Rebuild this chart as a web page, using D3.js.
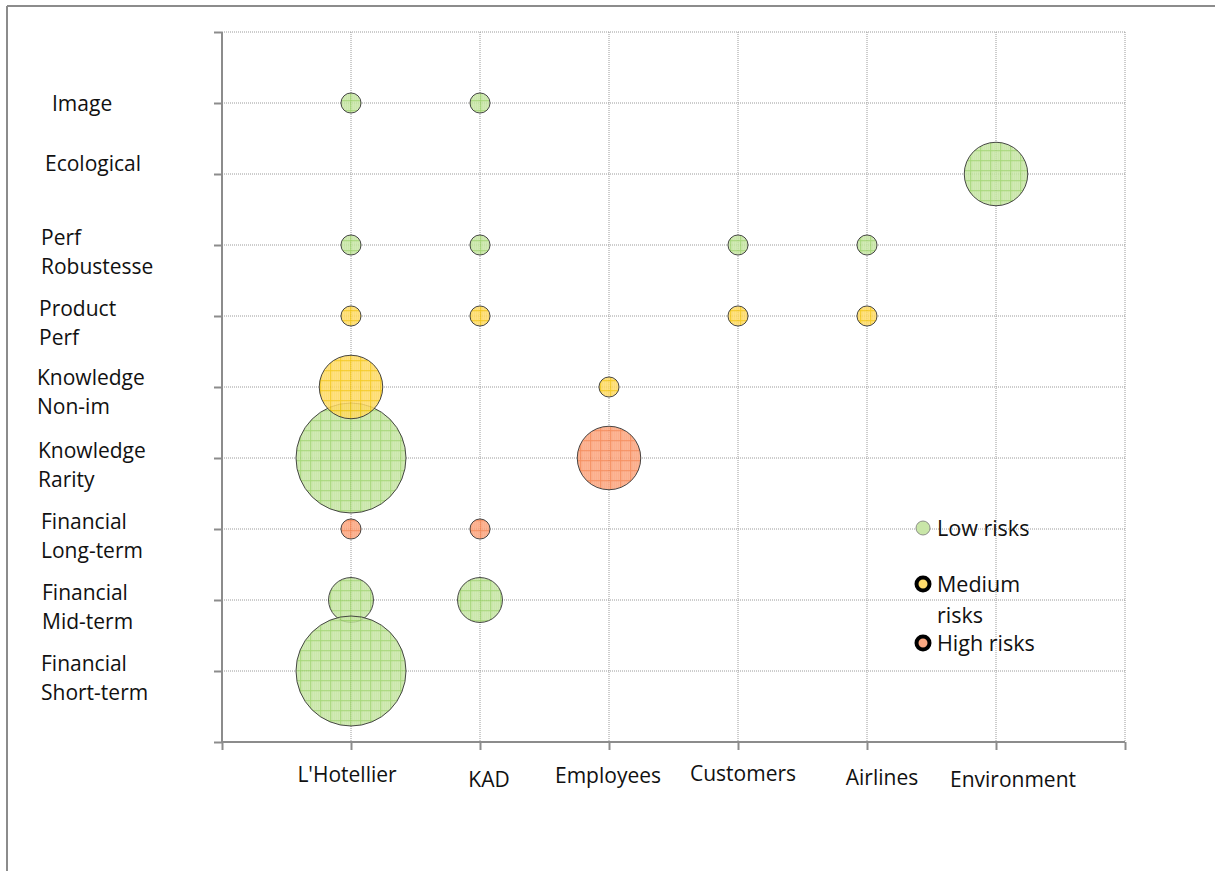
<!DOCTYPE html>
<html>
<head>
<meta charset="utf-8">
<script src="https://cdn.jsdelivr.net/npm/d3@7"></script>
<style>
  body { margin: 0; background: #fff; }
  text { font-family: "Open Sans", "Noto Sans", sans-serif; fill: #111; }
</style>
</head>
<body>
<div id="main"></div>
<script>
// categories on the x axis (stakeholders)
var stakeholders = ["L'Hotellier", "KAD", "Employees", "Customers", "Airlines", "Environment"];
// categories on the y axis, bottom to top, split into lines
var riskTypes = [
  ["Financial", "Short-term"],
  ["Financial", "Mid-term"],
  ["Financial", "Long-term"],
  ["Knowledge", "Rarity"],
  ["Knowledge", "Non-im"],
  ["Product", "Perf"],
  ["Perf", "Robustesse"],
  ["Ecological"],
  ["Image"]
];
var levels = ["Low risks", "Medium risks", "High risks"];

// bubbles: [stakeholder index, risk type index, size]
var lowRisks = [
  [0, 8, 1], [1, 8, 1],
  [5, 7, 10],
  [0, 6, 1], [1, 6, 1], [3, 6, 1], [4, 6, 1],
  [0, 3, 30],
  [0, 1, 5], [1, 1, 5],
  [0, 0, 30]
];
var mediumRisks = [
  [0, 5, 1], [1, 5, 1], [3, 5, 1], [4, 5, 1],
  [0, 4, 10], [2, 4, 1]
];
var highRisks = [
  [2, 3, 10],
  [0, 2, 1], [1, 2, 1]
];

var ctx = {
  w: 1215, h: 871,
  left: 222, right: 1125, top: 32, bottom: 742,
  colors: {
    "Low risks": {fill: "#c9e6a8", line: "#96d062"},
    "Medium risks": {fill: "#ffdc6c", line: "#f2c200"},
    "High risks": {fill: "#fba882", line: "#f27a44"}
  }
};

// small offsets of the category labels, as in the original layout
var xLabelShift = [[-4, 40], [9, 45], [-1, 41], [5, 39], [15, 43], [17, 45]];
var yLabelX = [41, 42, 41, 38, 37, 39, 41, 45, 52];
var yLabelDy = [0, 0, 0, 0, -2, 0, 0, -3, 8];

var svg = d3.select("#main").append("svg")
  .attr("width", ctx.w).attr("height", ctx.h);

// frame
svg.append("line").attr("x1", 7).attr("y1", 6).attr("x2", ctx.w).attr("y2", 6)
  .attr("stroke", "#8c8c8c").attr("stroke-width", 2);
svg.append("line").attr("x1", 7).attr("y1", 6).attr("x2", 7).attr("y2", ctx.h)
  .attr("stroke", "#8c8c8c").attr("stroke-width", 2);

// patterns for bubbles
var defs = svg.append("defs");
levels.forEach(function(lv, i) {
  var c = ctx.colors[lv];
  var p = defs.append("pattern").attr("id", "pat" + i)
    .attr("patternUnits", "userSpaceOnUse")
    .attr("width", 10).attr("height", 10);
  p.append("rect").attr("width", 10).attr("height", 10).attr("fill", c.fill);
  for (var k = 0; k < 10; k += 2) {
    p.append("rect").attr("x", k).attr("y", (k / 2) % 2 ? 0 : 1).attr("width", 1).attr("height", 10)
      .attr("fill", c.line).attr("opacity", 0.15);
  }
  p.append("rect").attr("x", 0).attr("y", 0).attr("width", 10).attr("height", 1.3).attr("fill", c.line).attr("opacity", 0.8);
  p.append("rect").attr("x", 0).attr("y", 0).attr("width", 1.3).attr("height", 10).attr("fill", c.line).attr("opacity", 0.8);
});

var x = d3.scaleLinear().domain([0, stakeholders.length + 1]).range([ctx.left, ctx.right]);
var y = d3.scaleLinear().domain([0, riskTypes.length + 1]).range([ctx.bottom, ctx.top]);
var r = d3.scaleSqrt().domain([0, 30]).range([0, 55]);

// grid
var grid = svg.append("g");
d3.range(1, stakeholders.length + 2).forEach(function(i) {
  grid.append("line").attr("x1", x(i)).attr("x2", x(i)).attr("y1", ctx.top).attr("y2", ctx.bottom)
    .attr("stroke", "#9a9a9a").attr("stroke-dasharray", "1,1");
});
d3.range(1, riskTypes.length + 2).forEach(function(i) {
  grid.append("line").attr("x1", ctx.left).attr("x2", ctx.right).attr("y1", y(i)).attr("y2", y(i))
    .attr("stroke", "#9a9a9a").attr("stroke-dasharray", "1,1");
});

// axes
var xAxis = svg.append("g").attr("transform", "translate(0," + ctx.bottom + ")")
  .call(d3.axisBottom(x).ticks(stakeholders.length + 1).tickSize(8).tickFormat(""));
var yAxis = svg.append("g").attr("transform", "translate(" + ctx.left + ",0)")
  .call(d3.axisLeft(y).ticks(riskTypes.length + 1).tickSize(8).tickFormat(""));
[xAxis, yAxis].forEach(function(a) {
  a.select(".domain").attr("stroke", "#8c8c8c").attr("stroke-width", 2);
  a.selectAll(".tick line").attr("stroke", "#8c8c8c").attr("stroke-width", 2);
});
xAxis.select(".domain").attr("d", "M" + ctx.left + ",0H" + ctx.right);
yAxis.select(".domain").attr("d", "M0," + ctx.top + "V" + ctx.bottom);

// category labels
svg.append("g").selectAll("text").data(stakeholders).enter().append("text")
  .attr("x", function(d, i) { return x(i + 1) + xLabelShift[i][0]; })
  .attr("y", function(d, i) { return ctx.bottom + xLabelShift[i][1]; })
  .attr("text-anchor", "middle").attr("font-size", 21)
  .text(function(d) { return d; });

var yl = svg.append("g").selectAll("text").data(riskTypes).enter().append("text")
  .attr("x", function(d, i) { return yLabelX[i]; })
  .attr("y", function(d, i) { return y(i + 1) + yLabelDy[i]; })
  .attr("font-size", 21);
yl.selectAll("tspan").data(function(d) { return d; }).enter().append("tspan")
  .attr("x", function() { return this.parentNode.getAttribute("x"); })
  .attr("dy", function(d, j) { return j ? 29 : 0; })
  .text(function(d) { return d; });

// bubbles, series drawn in order low, medium, high
var series = [lowRisks, mediumRisks, highRisks];
var bubbles = svg.append("g");
series.forEach(function(s, lv) {
  bubbles.selectAll(null).data(s).enter().append("circle")
    .attr("cx", function(d) { return x(d[0] + 1); })
    .attr("cy", function(d) { return y(d[1] + 1); })
    .attr("r", function(d) { return r(d[2]); })
    .attr("fill", "url(#pat" + lv + ")")
    .attr("fill-opacity", 0.85)
    .attr("stroke", "#333").attr("stroke-width", 0.9);
});

// legend
var legendPos = [{cy: 528, lines: ["Low risks"]}, {cy: 584, lines: ["Medium", "risks"]}, {cy: 643, lines: ["High risks"]}];
var lg = svg.append("g");
levels.forEach(function(lv, i) {
  lg.append("circle").attr("cx", 923).attr("cy", legendPos[i].cy)
    .attr("r", i === 0 ? 7 : 6.5)
    .attr("fill", ctx.colors[lv].fill)
    .attr("stroke", i === 0 ? "#777" : "#000")
    .attr("stroke-width", i === 0 ? 0.8 : 4);
  var t = lg.append("text").attr("x", 937).attr("y", legendPos[i].cy + 8).attr("font-size", 21.5);
  legendPos[i].lines.forEach(function(s, j) {
    t.append("tspan").attr("x", 937).attr("dy", j ? 31 : 0).text(s);
  });
});
</script>
</body>
</html>
